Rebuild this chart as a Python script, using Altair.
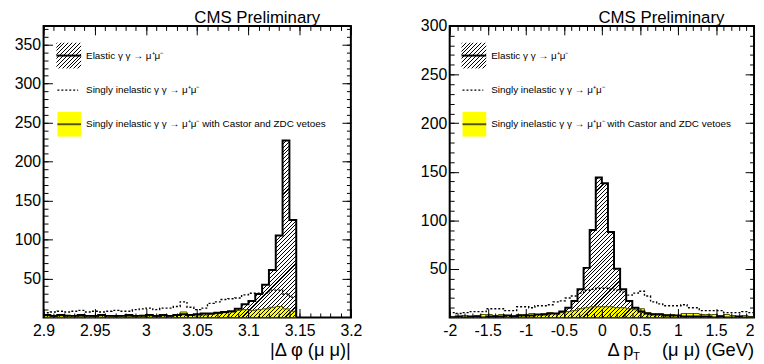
import altair as alt
import pandas as pd
import numpy as np

FONT = "Liberation Sans"

# ---------------- data ----------------
# left panel: |delta phi|, bins of width 0.3/45 starting at 2.9
phi_lo = 2.9
phi_bin = 0.3 / 45
elastic_phi = [3, 2, 3, 2, 2, 3, 2, 2, 3, 2,
               2, 2, 3, 2, 2, 3, 2, 3, 2, 3,
               4, 3, 4, 5, 5, 6, 7, 8, 11, 17,
               21, 30, 42, 61, 105, 227, 125]
inel_phi = [6, 7, 8, 7, 8, 9, 7, 8, 7, 8,
            9, 8, 8, 10, 11, 12, 10, 12, 12, 14,
            20, 13, 10, 12, 18, 20, 23, 24, 25, 29,
            31, 31, 31, 35, 35, 30, 26]
veto_phi = [2, 1, 2, 3, 2, 1, 2, 1, 2, 2,
            1, 2, 1, 2, 3, 2, 1, 2, 1, 3,
            7, 3, 2, 3, 4, 5, 6, 7, 9, 10,
            9, 10, 11, 13, 14, 11, 8]

# right panel: delta pT, bins of width 0.08 from -2 to 2
pt_lo = -2.0
pt_bin = 0.08
elastic_pt = [0, 1, 0, 1, 1, 0, 1, 1, 1, 2,
              1, 2, 2, 2, 3, 3, 4, 4, 6, 10,
              17, 29, 51, 90, 144, 138, 88, 50, 29, 17,
              10, 6, 4, 3, 3, 2, 2, 2, 1, 1,
              1, 1, 1, 0, 1, 0, 0, 1, 0, 0]
inel_pt = [5, 4, 5, 6, 6, 6, 9, 9, 9, 7,
           7, 11, 11, 10, 12, 12, 13, 16, 17, 20,
           22, 25, 28, 29, 30, 30, 29, 28, 26, 23,
           25, 27, 22, 16, 14, 12, 12, 12, 13, 10,
           10, 7, 7, 7, 7, 5, 5, 5, 6, 5]
veto_pt = [1, 1, 2, 1, 2, 3, 3, 2, 3, 2,
           2, 3, 3, 4, 3, 4, 5, 4, 5, 6,
           7, 9, 10, 11, 11, 11, 11, 10, 10, 9,
           8, 9, 5, 4, 4, 3, 3, 2, 4, 4,
           4, 3, 3, 3, 2, 3, 2, 1, 2, 1]

phi_xticks = [2.9, 2.95, 3.0, 3.05, 3.1, 3.15, 3.2]
phi_yticks = [50, 100, 150, 200, 250, 300, 350]
pt_xticks = [-2, -1.5, -1, -0.5, 0, 0.5, 1, 1.5, 2]
pt_yticks = [50, 100, 150, 200, 250, 300]

phi_xminor = [round(v, 3) for v in np.arange(2.9, 3.2001, 0.01)]
phi_yminor = list(range(10, 371, 10))
pt_xminor = [round(v, 2) for v in np.arange(-2.0, 2.0001, 0.1)]
pt_yminor = list(range(10, 301, 10))

leg_labels = ["Elastic γ γ → μ⁺μ⁻",
              "Singly inelastic γ γ → μ⁺μ⁻",
              "Singly inelastic γ γ → μ⁺μ⁻ with Castor and ZDC vetoes"]

# ---------------- helpers ----------------
dummy = pd.DataFrame({"a": [0]})


def area_df(lo, bw, vals):
    edges = [lo + bw * i for i in range(len(vals) + 1)]
    return pd.DataFrame({"x": edges, "y": list(vals) + [vals[-1]]})


def line_df(lo, bw, vals):
    edges = [lo + bw * i for i in range(len(vals) + 1)]
    xs = [edges[0]] + edges + [edges[-1]]
    ys = [0] + list(vals) + [vals[-1]] + [0]
    return pd.DataFrame({"x": xs, "y": ys, "o": list(range(len(xs)))})


def hatch(wpx, hpx, period=2.8, lw=0.75):
    r = hpx / wpx
    c = (1 + r) / (1 + r * r)
    L = (wpx + hpx) / np.sqrt(2)
    n = int(round(L / period))
    f = lw / L
    T = "rgba(0,0,0,0)"
    K = "black"
    stops = []
    for j in range(n):
        a = round(j / n, 6)
        b = round(min(j / n + f, 1.0), 6)
        stops += [alt.GradientStop(color=T, offset=a), alt.GradientStop(color=K, offset=a),
                  alt.GradientStop(color=K, offset=b), alt.GradientStop(color=T, offset=b)]
    return alt.LinearGradient(gradient="linear", stops=stops, x1=0, y1=0, x2=c, y2=c * r)


def txt(s, x, y, size, align="left", baseline="middle"):
    return alt.Chart(dummy).mark_text(text=s, align=align, baseline=baseline, fontSize=size,
                                      font=FONT, color="black").encode(x=alt.value(x), y=alt.value(y))


def panel(lo, bw, el, inel, veto, xdom, ydom, W, H, xt, xmin, yt, ymin, xlab_align, dx,
          cms_dx, title_layers):
    xs = alt.Scale(domain=xdom, nice=False, zero=False)
    ys = alt.Scale(domain=ydom, nice=False, zero=False)
    noax_x = alt.X("x:Q", scale=xs, axis=None)
    noax_y = alt.Y("y:Q", scale=ys, axis=None)

    lab_x = alt.Axis(orient="bottom", values=xt, labelExpr="'' + datum.value", ticks=False,
                     tickSize=0, domain=False, grid=False, title=None, labelPadding=5,
                     labelFontSize=16, labelFont=FONT, labelColor="black", labelFlush=False,
                     labelOverlap=False, labelAlign=xlab_align)
    lab_y = alt.Axis(orient="left", values=yt, ticks=False, tickSize=0, domain=False, grid=False,
                     title=None, labelPadding=3, labelFontSize=16, labelFont=FONT,
                     labelColor="black", minExtent=0, labelOverlap=False)

    layers = []
    layers.append(alt.Chart(area_df(lo, bw, veto)).mark_area(
        interpolate="step-after", color="#ffff00", clip=True).encode(
        x=alt.X("x:Q", scale=xs, axis=lab_x), y=alt.Y("y:Q", scale=ys, axis=lab_y)))

    wpx = (len(el) * bw) / (xdom[1] - xdom[0]) * W
    hpx = max(el) / (ydom[1] - ydom[0]) * H
    layers.append(alt.Chart(area_df(lo, bw, el)).mark_area(
        interpolate="step-after", color=hatch(wpx, hpx), clip=True).encode(x=noax_x, y=noax_y))
    layers.append(alt.Chart(line_df(lo, bw, veto)).mark_line(
        interpolate="step-after", color="#555500", strokeWidth=1, clip=True).encode(
        x=noax_x, y=noax_y, order="o:Q"))
    layers.append(alt.Chart(line_df(lo, bw, inel)).mark_line(
        interpolate="step-after", color="black", strokeWidth=1.4, strokeDash=[2, 2],
        clip=True).encode(x=noax_x, y=noax_y, order="o:Q"))
    layers.append(alt.Chart(line_df(lo, bw, el)).mark_line(
        interpolate="step-after", color="black", strokeWidth=2, clip=True).encode(
        x=noax_x, y=noax_y, order="o:Q"))

    # legend (drawn inside the frame)
    bx = 13 + dx
    layers.append(alt.Chart(dummy).mark_rect(color=hatch(25, 26)).encode(
        x=alt.value(bx), x2=alt.value(bx + 25), y=alt.value(17), y2=alt.value(43)))
    layers.append(alt.Chart(dummy).mark_rule(color="black", strokeWidth=2).encode(
        x=alt.value(bx), x2=alt.value(bx + 25), y=alt.value(30)))
    layers.append(alt.Chart(dummy).mark_rule(color="black", strokeWidth=1.4, strokeDash=[2, 2]).encode(
        x=alt.value(bx + 1), x2=alt.value(bx + 22), y=alt.value(65)))
    layers.append(alt.Chart(dummy).mark_rect(color="#ffff00").encode(
        x=alt.value(bx + 1), x2=alt.value(bx + 25), y=alt.value(87), y2=alt.value(112)))
    layers.append(alt.Chart(dummy).mark_rule(color="#555500", strokeWidth=2).encode(
        x=alt.value(bx + 1), x2=alt.value(bx + 25), y=alt.value(99.5)))
    tx = 43 + dx
    layers.append(txt(leg_labels[0], tx, 30, 10))
    layers.append(txt(leg_labels[1], tx, 65, 10))
    layers.append(txt(leg_labels[2], tx, 99.5, 10))

    layers.append(txt("CMS Preliminary", W - cms_dx, -3, 17, align="right", baseline="alphabetic"))
    layers += title_layers

    # inward ticks on all four sides
    td = pd.DataFrame({"x": [xdom[0]], "y": [ydom[0]]})
    for vals_x, vals_y, size in [(xt, yt, 9), (xmin, ymin, 4.5)]:
        common = dict(labels=False, domain=False, grid=False, title=None, tickColor="black",
                      tickWidth=1, tickSize=size, zindex=2)
        base = alt.Chart(td).mark_point(opacity=0, size=1)
        layers.append(base.encode(
            x=alt.X("x:Q", scale=xs, axis=alt.Axis(orient="top", offset=-H, values=vals_x, **common)),
            y=alt.Y("y:Q", scale=ys, axis=alt.Axis(orient="right", offset=-W, values=vals_y, **common))))
        layers.append(base.encode(
            x=alt.X("x:Q", scale=xs, axis=alt.Axis(orient="bottom", offset=-H, values=vals_x, **common)),
            y=alt.Y("y:Q", scale=ys, axis=alt.Axis(orient="left", offset=-W, values=vals_y, **common))))

    return alt.layer(*layers).properties(width=W, height=H).resolve_axis(
        x="independent", y="independent")


W1, W2, H = 311, 308, 295

left_titles = [txt("|Δ φ (μ μ)|", W1, H + 39.5, 18.5, align="right", baseline="alphabetic")]
right_titles = [
    txt("(μ μ) (GeV)", W2, H + 39.5, 18.5, align="right", baseline="alphabetic"),
    txt("T", 189, H + 43, 11.5, align="center", baseline="alphabetic"),
    txt("Δ\u2009p", 186, H + 39.5, 18.5, align="right", baseline="alphabetic"),
]

left = panel(phi_lo, phi_bin, elastic_phi, inel_phi, veto_phi, [2.9, 3.2], [0, 374], W1, H,
             phi_xticks, phi_xminor, phi_yticks, phi_yminor, "center", 0, 31, left_titles)
right = panel(pt_lo, pt_bin, elastic_pt, inel_pt, veto_pt, [-2, 2], [0, 300], W2, H,
              pt_xticks, pt_xminor, pt_yticks, pt_yminor,
              {"condition": {"test": "datum.value == 2", "value": "right"}, "value": "center"},
              -1, 30, right_titles)

chart = alt.hconcat(left, right, spacing=100, bounds="flush").properties(
    padding={"left": 5, "top": -2, "right": 0, "bottom": 0},
    background="white",
).configure_view(stroke="black", strokeWidth=2, fill="white")

chart.save("out.html", embed_options={"renderer": "svg", "actions": False})
